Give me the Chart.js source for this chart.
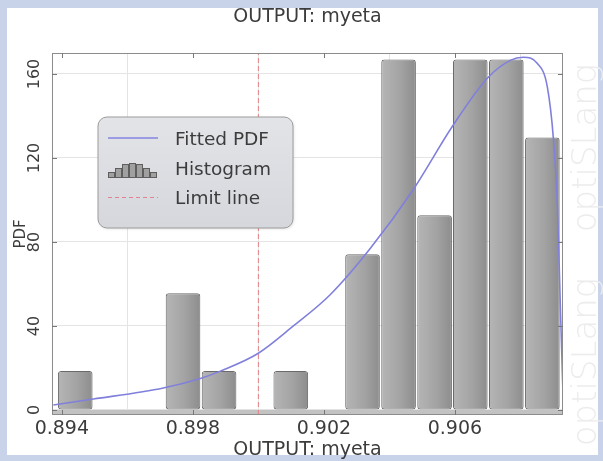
<!DOCTYPE html>
<html>
<head>
<meta charset="utf-8">
<title>OUTPUT: myeta</title>
<script src="https://cdn.jsdelivr.net/npm/chart.js@4.4.1/dist/chart.umd.min.js"></script>
<style>
  html, body { margin: 0; padding: 0; background: #c8d3ea; }
  #wrap { width: 603px; height: 461px; }
</style>
</head>
<body>
<div id="wrap"><canvas id="pdfChart" width="603" height="461"></canvas></div>
<script>
// histogram bins (centres) and their PDF heights
const binCenters = [0.89441, 0.89551, 0.89661, 0.89770, 0.89880, 0.89990, 0.90099,
                    0.90209, 0.90318, 0.90428, 0.90538, 0.90647, 0.90757, 0.90867];
const binHeights = [18.5, null, null, 55.6, 18.5, null, 18.5,
                    null, 74.2, 166.9, 92.7, 166.9, 166.9, 129.8];

// fitted PDF curve
const curveX = [0.89374, 0.89496, 0.89710, 0.89823, 0.89884, 0.90000, 0.90107, 0.90220,
                0.90342, 0.90473, 0.90592, 0.90699, 0.90769, 0.90809, 0.90852, 0.90882,
                0.90901, 0.90913, 0.90922, 0.90928, 0.90931];
const curveY = [2.4, 5.2, 10.5, 15, 18.5, 27, 40, 55,
                77, 105, 135, 158, 166.5, 168, 165, 154,
                128.6, 96.7, 49, 17.6, 3];

const limitX = 0.900;

const xTicks = [0.894, 0.898, 0.902, 0.906];
const yTicks = [0, 40, 80, 120, 160];
const xRange = [0.8937, 0.9093];
const yRange = [-2.4, 170];

const FONT = "'DejaVu Sans', Verdana, sans-serif";
const TEXT = '#3c3c3c';
const TITLE = 'OUTPUT: myeta';

// frame, watermark, title, plot decorations, y tick labels and legend
const decorPlugin = {
  id: 'decor',
  beforeDraw(chart) {
    const { ctx, width, height, chartArea: a } = chart;
    ctx.save();
    ctx.fillStyle = '#c8d3ea';
    ctx.fillRect(0, 0, width, height);
    ctx.fillStyle = '#ffffff';
    ctx.fillRect(7, 8, width - 12, height - 14);

    // optiSLang watermark
    ctx.fillStyle = '#ececec';
    ctx.font = `200 34px ${FONT}`;
    ctx.textAlign = 'center';
    ctx.textBaseline = 'middle';
    [148, 362].forEach(cy => {
      ctx.save();
      ctx.translate(587, cy);
      ctx.rotate(-Math.PI / 2);
      ctx.fillText('optiSLang', 0, 0);
      ctx.restore();
    });

    // chart title, centred over the plot
    ctx.fillStyle = TEXT;
    ctx.font = `19px ${FONT}`;
    ctx.fillText(TITLE, (a.left + a.right) / 2, 17);
    ctx.restore();
  },
  beforeDatasetsDraw(chart) {
    const { ctx, chartArea: a, scales: { y } } = chart;
    ctx.save();
    // grey base band below zero
    const y0 = y.getPixelForValue(0);
    ctx.fillStyle = '#c2c2c2';
    ctx.fillRect(a.left, y0, a.right - a.left, a.bottom - y0);
    ctx.restore();
  },
  afterDatasetsDraw(chart) {
    const { ctx, chartArea: a, scales: { x, y } } = chart;
    ctx.save();
    ctx.strokeStyle = '#8c8c8c';
    ctx.lineWidth = 1;
    ctx.strokeRect(a.left + 0.5, a.top + 0.5, a.right - a.left - 1, a.bottom - a.top - 1);

    // small inward tick marks
    ctx.strokeStyle = '#777';
    ctx.beginPath();
    xTicks.forEach(v => {
      const px = Math.round(x.getPixelForValue(v)) + 0.5;
      ctx.moveTo(px, a.top); ctx.lineTo(px, a.top + 5);
      ctx.moveTo(px, a.bottom); ctx.lineTo(px, a.bottom - 5);
    });
    yTicks.forEach(v => {
      const py = Math.round(y.getPixelForValue(v)) + 0.5;
      ctx.moveTo(a.left, py); ctx.lineTo(a.left + 5, py);
      ctx.moveTo(a.right, py); ctx.lineTo(a.right - 5, py);
    });
    ctx.stroke();

    // rotated y tick labels
    ctx.fillStyle = TEXT;
    ctx.font = `16px ${FONT}`;
    ctx.textAlign = 'center';
    ctx.textBaseline = 'middle';
    yTicks.forEach(v => {
      ctx.save();
      ctx.translate(35, y.getPixelForValue(v));
      ctx.rotate(-Math.PI / 2);
      ctx.fillText(String(v), 0, 0);
      ctx.restore();
    });
    ctx.restore();
  },
  afterDraw(chart) {
    const { ctx } = chart;
    const bx = 98, by = 117, bw = 195, bh = 111;
    ctx.save();
    ctx.shadowColor = 'rgba(0,0,0,0.12)';
    ctx.shadowBlur = 3;
    ctx.shadowOffsetX = 1;
    ctx.shadowOffsetY = 1;
    const g = ctx.createLinearGradient(0, by, 0, by + bh);
    g.addColorStop(0, '#e3e4e8');
    g.addColorStop(1, '#d6d7dc');
    ctx.fillStyle = g;
    ctx.beginPath();
    ctx.roundRect(bx, by, bw, bh, 9);
    ctx.fill();
    ctx.shadowColor = 'transparent';
    ctx.strokeStyle = '#9c9c9c';
    ctx.lineWidth = 1;
    ctx.stroke();

    // Fitted PDF sample
    ctx.strokeStyle = '#8585e0';
    ctx.lineWidth = 1.5;
    ctx.beginPath();
    ctx.moveTo(108, 138); ctx.lineTo(158, 138);
    ctx.stroke();

    // Histogram sample
    const hb = [5, 9, 13, 14, 13, 9, 5];
    ctx.fillStyle = '#a0a0a0';
    ctx.strokeStyle = '#5e5e5e';
    ctx.lineWidth = 1;
    hb.forEach((h, i) => {
      const rx = 108.5 + i * 7;
      ctx.fillRect(rx, 177 - h, 6, h);
      ctx.strokeRect(rx, 177.5 - h, 6, h);
    });

    // Limit line sample
    ctx.strokeStyle = '#e0858f';
    ctx.lineWidth = 1.2;
    ctx.setLineDash([4, 3]);
    ctx.beginPath();
    ctx.moveTo(108, 197.5); ctx.lineTo(158, 197.5);
    ctx.stroke();
    ctx.setLineDash([]);

    ctx.fillStyle = TEXT;
    ctx.font = `18.5px ${FONT}`;
    ctx.textAlign = 'left';
    ctx.textBaseline = 'middle';
    ctx.fillText('Fitted PDF', 175, 140);
    ctx.fillText('Histogram', 175, 170);
    ctx.fillText('Limit line', 175, 199);
    ctx.restore();
  },
};

function barGradient(c) {
  const { chart, dataIndex } = c;
  const xs = chart.scales.x;
  if (!chart.chartArea || !xs) return '#a4a4a4';
  const cx = xs.getPixelForValue(binCenters[dataIndex]);
  const g = chart.ctx.createLinearGradient(cx - 18, 0, cx + 18, 0);
  g.addColorStop(0, '#b6b6b6');
  g.addColorStop(0.55, '#a3a3a3');
  g.addColorStop(1, '#8c8c8c');
  return g;
}

const ctx = document.getElementById('pdfChart');
new Chart(ctx, {
  data: {
    datasets: [
      {
        type: 'line',
        label: 'Fitted PDF',
        data: curveX.map((v, i) => ({ x: v, y: curveY[i] })),
        borderColor: '#8080dc',
        borderWidth: 1.6,
        pointRadius: 0,
        cubicInterpolationMode: 'monotone',
        fill: false,
        order: 1,
      },
      {
        type: 'line',
        label: 'Limit line',
        data: [{ x: limitX, y: yRange[0] }, { x: limitX, y: yRange[1] }],
        borderColor: '#e57f84',
        borderWidth: 1,
        borderDash: [5, 3],
        pointRadius: 0,
        fill: false,
        order: 2,
      },
      {
        type: 'bar',
        label: 'Histogram',
        data: binCenters.map((v, i) => ({ x: v, y: binHeights[i] })),
        backgroundColor: barGradient,
        borderColor: '#6a6a6a',
        borderWidth: 1,
        borderRadius: 3,
        borderSkipped: false,
        barPercentage: 0.97,
        categoryPercentage: 1,
        order: 3,
      },
    ],
  },
  options: {
    responsive: false,
    animation: false,
    layout: { padding: { left: 0, right: 40, top: 53, bottom: 0 } },
    scales: {
      x: {
        type: 'linear',
        min: xRange[0],
        max: xRange[1],
        offset: false,
        afterBuildTicks: s => { s.ticks = xTicks.map(v => ({ value: v })); },
        afterFit: s => { s.height = 46; },
        ticks: {
          color: TEXT,
          font: { family: FONT, size: 19 },
          padding: 3,
          maxRotation: 0,
          callback: v => v.toFixed(3),
        },
        grid: { color: '#e4e4e4', drawTicks: false },
        border: { display: false },
        title: {
          display: true,
          text: TITLE,
          color: TEXT,
          font: { family: FONT, size: 19 },
          padding: { top: 0, bottom: 0 },
        },
      },
      y: {
        type: 'linear',
        min: yRange[0],
        max: yRange[1],
        afterBuildTicks: s => { s.ticks = yTicks.map(v => ({ value: v })); },
        afterFit: s => { s.width = 52; },
        ticks: { display: false },
        grid: { color: '#e4e4e4', drawTicks: false },
        border: { display: false },
        title: {
          display: true,
          text: 'PDF',
          color: TEXT,
          font: { family: FONT, size: 15 },
          padding: { top: 12, bottom: 0 },
        },
      },
    },
    plugins: {
      legend: { display: false },
      tooltip: { enabled: false },
      title: { display: false },
    },
  },
  plugins: [decorPlugin],
});
</script>
</body>
</html>
